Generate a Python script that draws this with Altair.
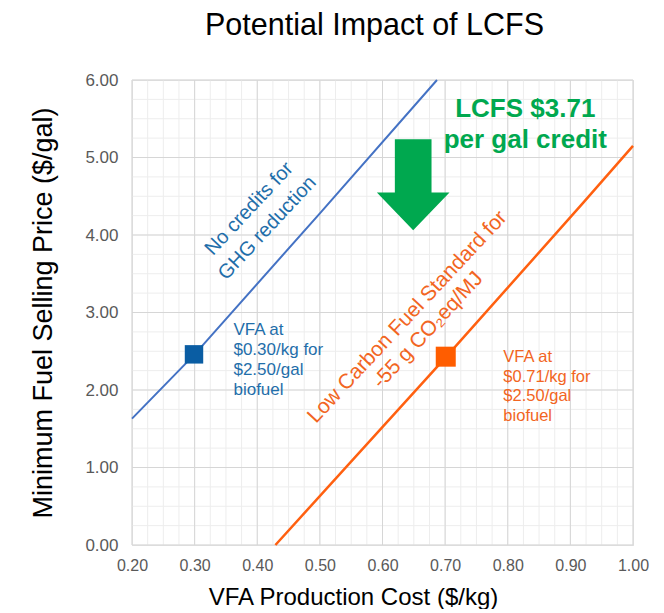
import altair as alt
import pandas as pd

# ---- data ----
blue_x = [0.20, 0.30, 0.50, 0.687]
blue_y = [1.63, 2.46, 4.28, 6.00]
orange_x = [0.429, 0.702, 0.921, 1.00]
orange_y = [0.00, 2.43, 4.42, 5.15]
marker_x = [0.299, 0.701]
marker_y = [2.46, 2.43]
marker_color = ["#0A5DA3", "#FF5D00"]
marker_size = [340, 400]

x_ticks = [0.2, 0.3, 0.4, 0.5, 0.6, 0.7, 0.8, 0.9, 1.0]
y_ticks = [0, 1, 2, 3, 4, 5, 6]
x_minor = [round(0.2 + 0.025 * i, 3) for i in range(33)]
y_minor = [0.25 * i for i in range(25)]

rot_text = ["No credits for", "GHG reduction",
            "Low Carbon Fuel Standard for", "-55 g CO\u2082eq/MJ"]
rot_x = [0.387, 0.416, 0.640, 0.673]
rot_y = [4.34, 4.09, 2.94, 2.77]
rot_color = ["#1F6EAA", "#1F6EAA", "#F26522", "#F26522"]
rot_size = [20, 20, 21, 21]

note_text = ["VFA at\n$0.30/kg for\n$2.50/gal\nbiofuel",
             "VFA at\n$0.71/kg for\n$2.50/gal\nbiofuel"]
note_x = [0.362, 0.793]
note_y = [2.71, 2.356]

credit_text = ["LCFS $3.71\nper gal credit"]
credit_x = [0.828]
credit_y = [5.517]

arrow_x = [0.649]
arrow_y = [4.65]

FONT = "Liberation Sans"

xscale = alt.Scale(domain=[0.2, 1.0], nice=False, zero=False)
yscale = alt.Scale(domain=[0, 6], nice=False, zero=False)

axis_x = alt.Axis(values=x_ticks, format=".2f", grid=False, ticks=False, domain=False,
                  labelFlush=False,
                  labelFontSize=16, labelColor="#595959", labelFont=FONT, labelPadding=12,
                  title="VFA Production Cost ($/kg)", titleFont=FONT, titleFontSize=24,
                  titleFontWeight="normal", titleColor="black", titlePadding=12,
                  titleX=221)
axis_y = alt.Axis(values=y_ticks, format=".2f", grid=False, ticks=False, domain=False,
                  labelFlush=False,
                  labelFontSize=17, labelColor="#595959", labelFont=FONT, labelPadding=14,
                  title="Minimum Fuel Selling Price ($/gal)", titleFont=FONT, titleFontSize=27,
                  titleFontWeight="normal", titleColor="black", titlePadding=27)

X = lambda: alt.X("x:Q", scale=xscale, axis=axis_x)
Y = lambda: alt.Y("y:Q", scale=yscale, axis=axis_y)

minor_x = alt.Chart(pd.DataFrame({"x": x_minor})).mark_rule(color="#EDEDED", strokeWidth=1).encode(x=X())
minor_y = alt.Chart(pd.DataFrame({"y": y_minor})).mark_rule(color="#EDEDED", strokeWidth=1).encode(y=Y())
major_x = alt.Chart(pd.DataFrame({"x": x_ticks})).mark_rule(color="#D6D6D6", strokeWidth=1).encode(x=X())
major_y = alt.Chart(pd.DataFrame({"y": y_ticks})).mark_rule(color="#D6D6D6", strokeWidth=1).encode(y=Y())

blue_line = alt.Chart(pd.DataFrame({"x": blue_x, "y": blue_y})).mark_line(
    color="#4472C4", strokeWidth=2).encode(x=X(), y=Y())
orange_line = alt.Chart(pd.DataFrame({"x": orange_x, "y": orange_y})).mark_line(
    color="#FF6010", strokeWidth=2.5).encode(x=X(), y=Y())

markers = alt.Chart(pd.DataFrame({"x": marker_x, "y": marker_y, "c": marker_color,
                                  "s": marker_size})).mark_point(
    shape="square", filled=True, opacity=1, strokeWidth=0).encode(
    x=X(), y=Y(),
    color=alt.Color("c:N", scale=None), size=alt.Size("s:Q", scale=None))

rot_labels = alt.Chart(pd.DataFrame({"x": rot_x, "y": rot_y, "t": rot_text, "c": rot_color,
                                     "fs": rot_size})).mark_text(
    font=FONT, angle=313, align="center", baseline="middle").encode(
    x=X(), y=Y(), text="t:N",
    color=alt.Color("c:N", scale=None), size=alt.Size("fs:Q", scale=None))

note_blue = alt.Chart(pd.DataFrame({"x": note_x[:1], "y": note_y[:1], "t": note_text[:1]})).mark_text(
    font=FONT, fontSize=17, lineHeight=20, align="left", baseline="alphabetic",
    lineBreak="\n", color="#1F6EAA").encode(x=X(), y=Y(), text="t:N")
note_orange = alt.Chart(pd.DataFrame({"x": note_x[1:], "y": note_y[1:], "t": note_text[1:]})).mark_text(
    font=FONT, fontSize=16.5, lineHeight=19.5, align="left", baseline="alphabetic",
    lineBreak="\n", color="#F26522").encode(x=X(), y=Y(), text="t:N")

credit = alt.Chart(pd.DataFrame({"x": credit_x, "y": credit_y, "t": credit_text})).mark_text(
    font=FONT, fontSize=26, fontWeight="bold", lineHeight=31, align="center",
    baseline="alphabetic", lineBreak="\n", color="#00A84F").encode(x=X(), y=Y(), text="t:N")

arrow_path = ("M -0.403 -1 L 0.403 -1 L 0.403 0.174 L 0.798 0.174 L 0 1 "
              "L -0.798 0.174 L -0.403 0.174 Z")
arrow = alt.Chart(pd.DataFrame({"x": arrow_x, "y": arrow_y})).mark_point(
    shape=arrow_path, filled=True, opacity=1, strokeWidth=0, color="#00A84F", size=8281).encode(
    x=X(), y=Y())

chart = alt.layer(
    minor_x, minor_y, major_x, major_y, blue_line, orange_line, markers,
    rot_labels, note_blue, note_orange, credit, arrow
).properties(
    width=501, height=465,
    padding={"left": 21, "top": 3, "right": 5, "bottom": 0},
    title=alt.TitleParams("Potential Impact of LCFS", font=FONT, fontSize=30.5,
                          fontWeight="normal", color="black", baseline="alphabetic",
                          offset=5.5, dx=-8, anchor="middle"),
).configure_view(stroke="#D6D6D6", strokeWidth=1)

chart.save("out.html", embed_options={"renderer": "svg", "actions": False})
